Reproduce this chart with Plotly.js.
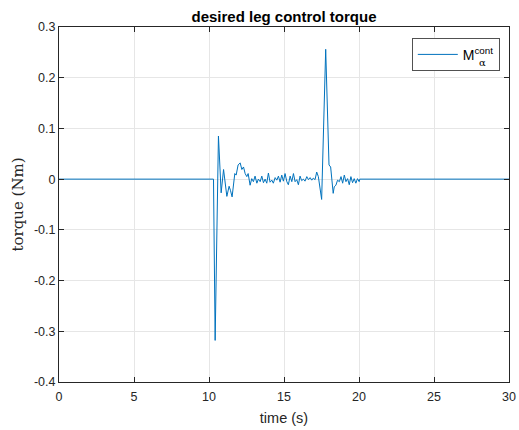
<!DOCTYPE html>
<html>
<head>
<meta charset="utf-8">
<script src="https://cdn.plot.ly/plotly-3.0.1.min.js"></script>
<style>html,body{margin:0;padding:0;background:#fff;}#chart{width:519px;height:430px;}</style>
</head>
<body>
<div id="chart"></div>
<script>
const timeS = [0, 10.3, 10.41, 10.63, 10.81, 10.97, 11.19, 11.34, 11.43, 11.54, 11.72, 11.81, 11.94, 12.08, 12.19, 12.3, 12.41, 12.52, 12.61, 12.74, 12.85, 12.96, 13.07, 13.19, 13.29, 13.41, 13.52, 13.63, 13.74, 13.85, 13.96, 14.07, 14.19, 14.29, 14.41, 14.52, 14.63, 14.74, 14.85, 14.96, 15.07, 15.19, 15.29, 15.41, 15.52, 15.63, 15.74, 15.85, 15.96, 16.07, 16.18, 16.29, 16.4, 16.52, 16.63, 16.74, 16.85, 16.95, 17.07, 17.18, 17.29, 17.4, 17.51, 17.78, 18.0, 18.11, 18.28, 18.35, 18.46, 18.57, 18.69, 18.8, 18.91, 19.02, 19.13, 19.24, 19.35, 19.46, 19.57, 19.68, 19.79, 19.9, 20.01, 20.05, 30];
const torqueNm = [0, 0, -0.318, 0.085, -0.027, 0.019, -0.034, -0.014, -0.022, -0.035, 0.011, 0.008, 0.028, 0.032, 0.019, 0.024, 0.011, 0.005, 0.011, -0.012, 0.001, -0.005, 0.006, -0.008, 0, -0.005, 0.006, -0.007, 0, -0.008, 0.012, -0.006, -0.002, -0.008, 0.003, -0.002, 0.006, -0.006, 0.008, -0.004, 0.011, -0.005, -0.011, 0.006, -0.005, 0.011, -0.005, -0.001, -0.011, 0.006, -0.003, 0, -0.004, 0.005, -0.001, 0.003, -0.002, 0.002, -0.001, 0.014, 0.005, -0.016, -0.040, 0.256, 0.028, 0.024, -0.028, -0.015, -0.012, -0.002, -0.005, 0.005, -0.008, 0.008, -0.005, 0.001, -0.011, 0.005, -0.007, 0.001, -0.008, 0.001, -0.005, 0, 0];
const xTicks = [0, 5, 10, 15, 20, 25, 30];
const yTicks = [-0.4, -0.3, -0.2, -0.1, 0, 0.1, 0.2, 0.3];
const yTickLabels = ['-0.4', '-0.3', '-0.2', '-0.1', '0', '0.1', '0.2', '0.3'];
const seriesName = 'M<sup>cont</sup>';
const seriesSub = 'α';

const sans = 'Liberation Sans, Arial, sans-serif';
const axisCommon = {
  showline: true, linecolor: '#262626', linewidth: 1, mirror: 'ticks',
  ticks: 'inside', ticklen: 5, tickcolor: '#262626', tickwidth: 1,
  showgrid: true, gridcolor: '#e6e6e6', gridwidth: 1, zeroline: false,
  tickfont: {family: sans, size: 12.5, color: '#262626'}
};

const data = [{
  x: timeS, y: torqueNm, type: 'scatter', mode: 'lines',
  line: {color: '#0072BD', width: 1},
  name: seriesName
}];

const layout = {
  width: 519, height: 430,
  margin: {l: 59, r: 10, t: 27, b: 48},
  paper_bgcolor: '#fff', plot_bgcolor: '#fff',
  title: {text: '<b>desired leg control torque</b>', xref: 'paper', x: 0.5, xanchor: 'center', y: 0.962, yanchor: 'middle',
    font: {family: sans, size: 15, color: '#000'}},
  xaxis: Object.assign({}, axisCommon, {range: [0, 30], tickvals: xTicks, ticklabelstandoff: 3,
    title: {text: 'time (s)', standoff: 9, font: {family: sans, size: 14.5, color: '#262626'}}}),
  yaxis: Object.assign({}, axisCommon, {range: [-0.4, 0.3], tickvals: yTicks, ticktext: yTickLabels,
    title: {text: 'torque (Nm)', standoff: 6, font: {family: 'DejaVu Serif, Liberation Serif, serif', size: 15, color: '#262626'}}}),
  showlegend: true,
  legend: {x: 0.98, xanchor: 'right', y: 0.969, yanchor: 'top', bgcolor: '#fff', bordercolor: '#262626', borderwidth: 0.8,
    itemwidth: 40,
    font: {family: sans, size: 14, color: '#000'}},
  annotations: [{
    text: seriesSub, xref: 'paper', yref: 'paper', x: 0.94, y: 0.9, xanchor: 'center', yanchor: 'middle',
    showarrow: false, font: {family: 'DejaVu Serif, serif', size: 10, color: '#000'}
  }]
};

Plotly.newPlot('chart', data, layout, {displayModeBar: false, staticPlot: true});
</script>
</body>
</html>
